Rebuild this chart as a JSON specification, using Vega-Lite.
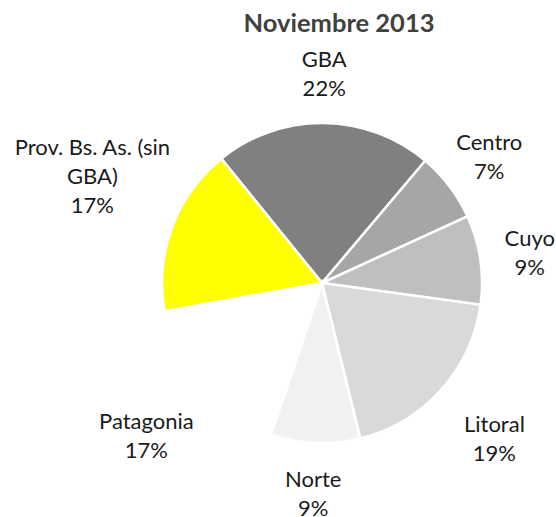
{
  "$schema": "https://vega.github.io/schema/vega-lite/v6.json",
  "width": 458,
  "height": 466,
  "autosize": {"type": "none"},
  "padding": {"left": 93, "top": 50, "right": 5, "bottom": 1},
  "background": "white",
  "title": {"text": "Noviembre 2013", "font": "Lato", "fontSize": 25.5, "fontWeight": "bold", "color": "#404040", "offset": 12, "dx": 17},
  "config": {"view": {"stroke": null}},
  "data": {"values": [
    {"n": 1, "region": "GBA", "label": "GBA", "share": 22},
    {"n": 2, "region": "Centro", "label": "Centro", "share": 7},
    {"n": 3, "region": "Cuyo", "label": "Cuyo", "share": 9},
    {"n": 4, "region": "Litoral", "label": "Litoral", "share": 19},
    {"n": 5, "region": "Norte", "label": "Norte", "share": 9},
    {"n": 6, "region": "Patagonia", "label": "Patagonia", "share": 17},
    {"n": 7, "region": "Prov. Bs. As. (sin GBA)", "label": "Prov. Bs. As. (sin\nGBA)", "share": 17}
  ]},
  "transform": [
    {"stack": "share", "groupby": [], "sort": [{"field": "n", "order": "ascending"}], "as": ["s0", "s1"]},
    {"calculate": "(datum.s0 + datum.s1) / 2", "as": "mid"},
    {"calculate": "datum.label + '\\n' + datum.share + '%'", "as": "text"}
  ],
  "layer": [
    {
      "mark": {"type": "arc", "outerRadius": 160, "stroke": "white", "strokeWidth": 2.5},
      "encoding": {
        "theta": {"field": "s0", "type": "quantitative", "scale": {"domain": [0, 100], "range": [-0.6807, 5.6025]}},
        "theta2": {"field": "s1"},
        "color": {
          "field": "region", "type": "nominal", "legend": null,
          "scale": {
            "domain": ["GBA", "Centro", "Cuyo", "Litoral", "Norte", "Patagonia", "Prov. Bs. As. (sin GBA)"],
            "range": ["#808080", "#a6a6a6", "#bfbfbf", "#d9d9d9", "#f2f2f2", "#ffffff", "#ffff00"]
          }
        }
      }
    },
    {
      "transform": [{"filter": "datum.n <= 3 || datum.n == 5"}],
      "mark": {"type": "text", "radius": 210, "dy": -13, "font": "Lato", "fontSize": 22, "lineBreak": "\n", "lineHeight": 29, "color": "#1a1a1a", "baseline": "middle", "align": "center"},
      "encoding": {
        "theta": {"field": "mid", "type": "quantitative", "scale": {"domain": [0, 100], "range": [-0.6807, 5.6025]}},
        "text": {"field": "text", "type": "nominal"}
      }
    },
    {
      "transform": [{"filter": "datum.n == 4 || datum.n == 6"}],
      "mark": {"type": "text", "radius": 232, "dy": -13, "font": "Lato", "fontSize": 22, "lineBreak": "\n", "lineHeight": 29, "color": "#1a1a1a", "baseline": "middle", "align": "center"},
      "encoding": {
        "theta": {"field": "mid", "type": "quantitative", "scale": {"domain": [0, 100], "range": [-0.6807, 5.6025]}},
        "text": {"field": "text", "type": "nominal"}
      }
    },
    {
      "transform": [{"filter": "datum.n == 7"}],
      "mark": {"type": "text", "radius": 245, "dy": -50, "font": "Lato", "fontSize": 22, "lineBreak": "\n", "lineHeight": 29, "color": "#1a1a1a", "baseline": "middle", "align": "center"},
      "encoding": {
        "theta": {"field": "mid", "type": "quantitative", "scale": {"domain": [0, 100], "range": [-0.6807, 5.6025]}},
        "text": {"field": "text", "type": "nominal"}
      }
    }
  ]
}
